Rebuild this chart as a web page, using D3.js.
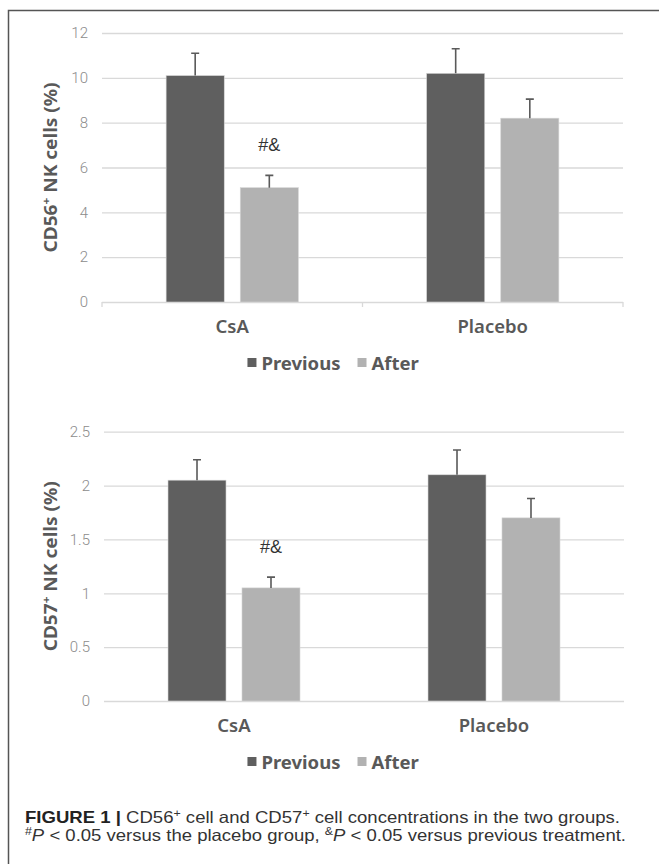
<!DOCTYPE html>
<html>
<head>
<meta charset="utf-8">
<script src="https://cdn.jsdelivr.net/npm/d3@7"></script>
<style>
  body { margin: 0; background: #fff; }
  text { font-family: "Noto Sans", sans-serif; }
</style>
</head>
<body>
<div id="chart"></div>
<script>
var width = 659,
    height = 864;

var categories = ["CsA", "Placebo"];
var seriesNames = ["Previous", "After"];

var cd56Previous = [10.1, 10.2];
var cd56After = [5.1, 8.2];
var cd56PreviousErr = [1.0, 1.1];
var cd56AfterErr = [0.55, 0.85];
var cd56Ticks = [0, 2, 4, 6, 8, 10, 12];

var cd57Previous = [2.05, 2.1];
var cd57After = [1.05, 1.7];
var cd57PreviousErr = [0.19, 0.23];
var cd57AfterErr = [0.1, 0.18];
var cd57Ticks = [0, 0.5, 1, 1.5, 2, 2.5];

var afterMarks = ["#&", ""];

var colors = ["#5f5f5f", "#b2b2b2"];

var svg = d3.select("#chart").append("svg")
    .attr("width", width)
    .attr("height", height);

// frame (only top and left edges show)
svg.append("path")
    .attr("d", "M8.5,870V10.5H670")
    .attr("fill", "none")
    .attr("stroke", "#555")
    .attr("stroke-width", 1.5);

function panel(opt) {
  var x0 = d3.scaleBand().domain(categories).range([opt.left, opt.right]);
  var x1 = d3.scaleBand().domain(seriesNames)
      .range([0, x0.bandwidth()])
      .paddingInner(0.216)
      .paddingOuter(0.865);
  var y = d3.scaleLinear().domain([0, d3.max(opt.ticks)]).range([opt.bottom, opt.top]);

  var g = svg.append("g");

  var axis = g.append("g")
      .attr("transform", "translate(" + opt.left + ",0)")
      .call(d3.axisLeft(y)
        .tickValues(opt.ticks)
        .tickSize(-(opt.right - opt.left))
        .tickPadding(14)
        .tickFormat(d3.format("~g")));
  axis.select(".domain").remove();
  axis.selectAll("line").attr("stroke", "#d9d9d9").attr("stroke-width", 1.3);
  axis.selectAll("text")
      .attr("fill", "#8c8c8c")
      .style("font-size", "15px")
      .style("font-family", "Roboto, sans-serif")
      .style("font-weight", 300);

  if (opt.catTicks) {
    g.selectAll(".ctick")
        .data([opt.left, x0("Placebo"), opt.right])
      .enter().append("line")
        .attr("x1", function(d) { return d; })
        .attr("x2", function(d) { return d; })
        .attr("y1", opt.bottom)
        .attr("y2", opt.bottom + 5)
        .attr("stroke", "#d9d9d9")
        .attr("stroke-width", 1.3);
  }

  var rows = categories.map(function(c, i) {
    return [
      {cat: c, s: "Previous", v: opt.prev[i], e: opt.prevErr[i], mark: ""},
      {cat: c, s: "After", v: opt.after[i], e: opt.afterErr[i], mark: afterMarks[i]}
    ];
  });
  var bars = d3.merge(rows);

  g.selectAll(".bar")
      .data(bars)
    .enter().append("rect")
      .attr("x", function(d) { return x0(d.cat) + x1(d.s); })
      .attr("y", function(d) { return y(d.v); })
      .attr("width", x1.bandwidth())
      .attr("height", function(d) { return y(0) - y(d.v); })
      .attr("fill", function(d) { return colors[seriesNames.indexOf(d.s)]; })
      .attr("stroke", "#d6d6d6")
      .attr("stroke-width", 0.6);

  var cx = function(d) { return x0(d.cat) + x1(d.s) + x1.bandwidth() / 2; };

  g.selectAll(".err")
      .data(bars)
    .enter().append("path")
      .attr("d", function(d) {
        var xc = cx(d), yt = y(d.v + d.e);
        return "M" + xc + "," + y(d.v) + "V" + yt + "M" + (xc - 4) + "," + yt + "H" + (xc + 4);
      })
      .attr("fill", "none")
      .attr("stroke", "#5a5a5a")
      .attr("stroke-width", 1.6);

  g.selectAll(".mark")
      .data(bars.filter(function(d) { return d.mark; }))
    .enter().append("text")
      .attr("x", cx)
      .attr("y", function(d) { return y(d.v + d.e) - 24; })
      .attr("text-anchor", "middle")
      .attr("fill", "#333")
      .style("font-size", "18px")
      .style("font-family", "'Liberation Sans', sans-serif")
      .text(function(d) { return d.mark; });

  g.selectAll(".cat")
      .data(categories)
    .enter().append("text")
      .attr("x", function(d) { return x0(d) + x0.bandwidth() / 2; })
      .attr("y", opt.bottom + 31)
      .attr("text-anchor", "middle")
      .attr("fill", "#595959")
      .style("font-size", "18.5px")
      .style("font-weight", 600)
      .text(function(d) { return d; });

  var title = g.append("text")
      .attr("transform", "translate(" + 57 + "," + ((opt.top + opt.bottom) / 2) + ")rotate(-90)")
      .attr("text-anchor", "middle")
      .attr("textLength", 170)
      .attr("lengthAdjust", "spacingAndGlyphs")
      .attr("fill", "#595959")
      .style("font-size", "18px")
      .style("font-weight", "bold");
  title.append("tspan").text(opt.label);
  title.append("tspan").attr("dy", -7).style("font-size", "11px").text("+");
  title.append("tspan").attr("dy", 7).text(" NK cells (%)");

  // legend
  var lg = g.append("g");
  var ly = opt.bottom + 61;
  var items = lg.selectAll(".li")
      .data(seriesNames)
    .enter().append("g");
  items.append("rect")
      .attr("width", 9).attr("height", 9)
      .attr("y", ly - 5)
      .attr("fill", function(d, i) { return colors[i]; });
  items.append("text")
      .attr("x", 14)
      .attr("y", ly + 6.5)
      .attr("fill", "#595959")
      .style("font-size", "18.5px")
      .style("font-weight", "bold")
      .text(function(d) { return d; });
  var pos = 0, offs = [];
  items.each(function() {
    offs.push(pos);
    pos += this.getBBox().width + 17;
  });
  var total = pos - 17;
  items.attr("transform", function(d, i) { return "translate(" + (333.5 - total / 2 + offs[i]) + ",0)"; });
}

panel({
  left: 102, right: 623, top: 33, bottom: 302,
  ticks: cd56Ticks, prev: cd56Previous, after: cd56After,
  prevErr: cd56PreviousErr, afterErr: cd56AfterErr,
  label: "CD56", catTicks: true
});

panel({
  left: 104, right: 624, top: 431.7, bottom: 701,
  ticks: cd57Ticks, prev: cd57Previous, after: cd57After,
  prevErr: cd57PreviousErr, afterErr: cd57AfterErr,
  label: "CD57", catTicks: false
});

// caption
var cap1 = svg.append("text")
    .attr("x", 25).attr("y", 823)
    .attr("fill", "#333")
    .attr("textLength", 595)
    .attr("lengthAdjust", "spacingAndGlyphs")
    .style("font-family", "'Liberation Sans', sans-serif")
    .style("font-size", "16.5px");
cap1.append("tspan").style("font-weight", "bold").attr("fill", "#222").text("FIGURE 1 | ");
cap1.append("tspan").text("CD56");
cap1.append("tspan").attr("dy", -6).style("font-size", "11px").text("+");
cap1.append("tspan").attr("dy", 6).text(" cell and CD57");
cap1.append("tspan").attr("dy", -6).style("font-size", "11px").text("+");
cap1.append("tspan").attr("dy", 6).text(" cell concentrations in the two groups.");

var cap2 = svg.append("text")
    .attr("x", 25).attr("y", 841)
    .attr("fill", "#333")
    .attr("textLength", 601)
    .attr("lengthAdjust", "spacingAndGlyphs")
    .style("font-family", "'Liberation Sans', sans-serif")
    .style("font-size", "16.5px");
cap2.append("tspan").attr("dy", -6).style("font-size", "11px").text("#");
cap2.append("tspan").attr("dy", 6).style("font-style", "italic").text("P");
cap2.append("tspan").text(" < 0.05 versus the placebo group, ");
cap2.append("tspan").attr("dy", -6).style("font-size", "11px").text("&");
cap2.append("tspan").attr("dy", 6).style("font-style", "italic").text("P");
cap2.append("tspan").text(" < 0.05 versus previous treatment.");
</script>
</body>
</html>
